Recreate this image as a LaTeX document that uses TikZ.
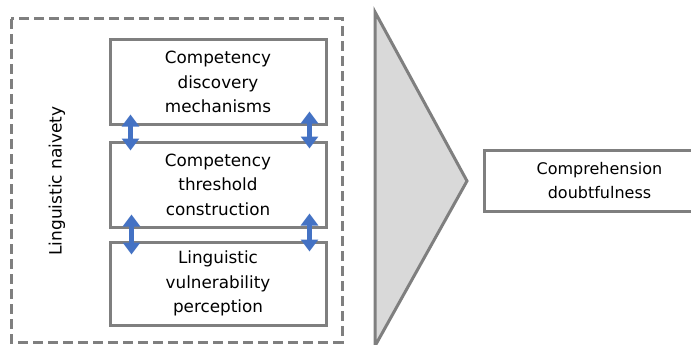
\documentclass[tikz,border=0pt]{standalone}
\usepackage{fontspec}
\setmainfont{DejaVu Sans}
\usepackage{tikz}
\usetikzlibrary{arrows.meta, positioning, calc}
\definecolor{framegray}{HTML}{7F7F7F}
\definecolor{conegray}{HTML}{D9D9D9}
\definecolor{linkblue}{HTML}{4472C4}

\begin{document}
\begin{tikzpicture}[x=1pt, y=-1pt,
    stagebox/.style={draw=framegray, line width=3pt, fill=white, minimum width=216pt,
      align=center, inner sep=0pt, font=\fontsize{16.8}{24.5}\selectfont},
    linkarrow/.style={linkblue, line width=5.5pt, {Triangle[width=17pt,length=12pt]}-{Triangle[width=17pt,length=12pt]}}]
  \useasboundingbox (0,0) rectangle (691,345);

  % Outer dashed frame
  \draw[framegray, line width=3pt, dash pattern=on 10pt off 5pt] (11,19) rectangle (342,342);
  \node[rotate=90, font=\fontsize{17}{20}\selectfont] (naivety) at (57,181) {Linguistic naivety};

  % Three stacked stages
  \node[stagebox, minimum height=84pt] (discovery) at (218,82) {Competency\\discovery\\mechanisms};
  \node[stagebox, minimum height=85pt] (threshold) at (218,184.5) {Competency\\threshold\\construction};
  \node[stagebox, minimum height=83pt] (perception) at (218,283.5) {Linguistic\\vulnerability\\perception};

  % Two-way links between stages
  \draw[linkarrow] ([xshift=22pt, yshift=11pt]discovery.south west) -- ([xshift=22pt, yshift=-10pt]threshold.north west);
  \draw[linkarrow] ([xshift=-18pt, yshift=14pt]discovery.south east) -- ([xshift=-18pt, yshift=-8pt]threshold.north east);
  \draw[linkarrow] ([xshift=23pt, yshift=14pt]threshold.south west) -- ([xshift=23pt, yshift=-14pt]perception.north west);
  \draw[linkarrow] ([xshift=-18pt, yshift=15pt]threshold.south east) -- ([xshift=-18pt, yshift=-11pt]perception.north east);

  % Big cone pointing to the outcome
  \draw[framegray, fill=conegray, line width=3pt, line join=miter] (375,12) -- (467,181) -- (375,346) -- cycle;
  \coordinate (apex) at (467,181);

  % Outcome box (runs off the right edge)
  \begin{scope}
    \clip (0,0) rectangle (691,345);
    \node[stagebox, minimum width=230pt, minimum height=61pt, anchor=west, font=\fontsize{16}{24}\selectfont] (doubt) at ([xshift=16pt]apex) {Comprehension\\doubtfulness};
  \end{scope}
\end{tikzpicture}
\end{document}
